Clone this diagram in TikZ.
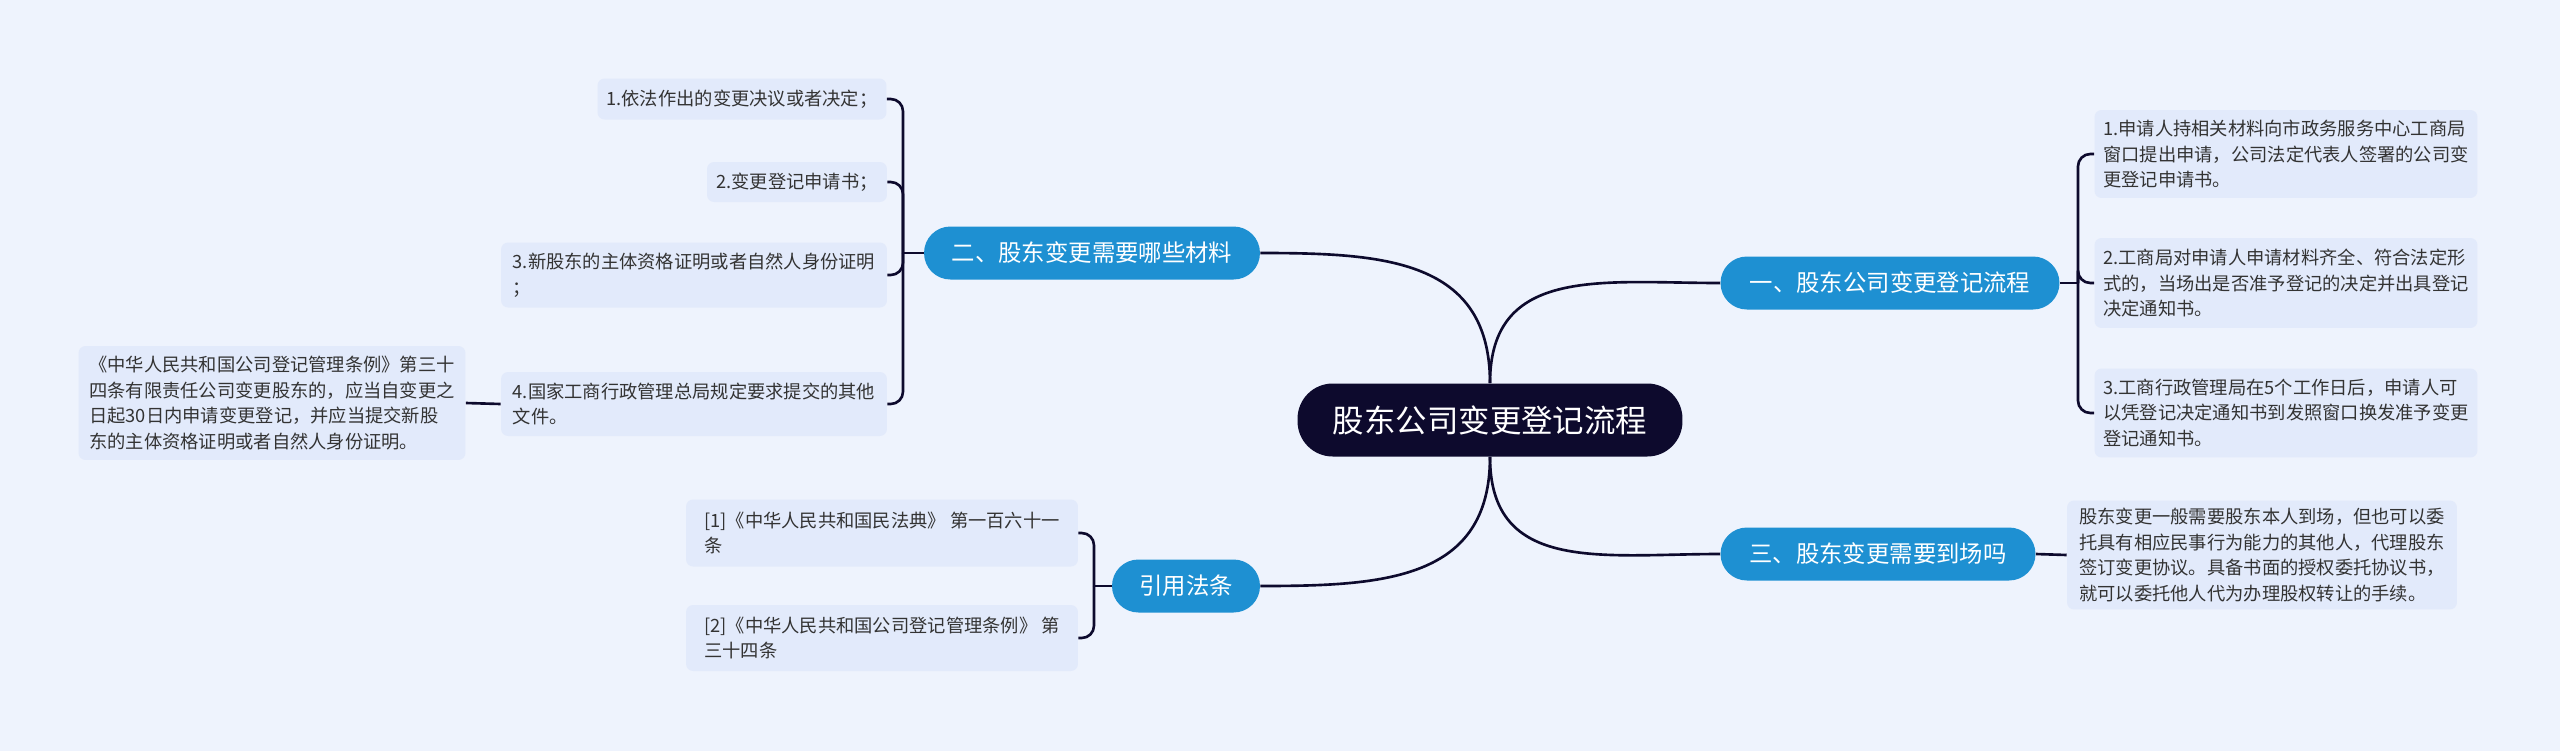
\documentclass[tikz,border=0pt]{standalone}
\usepackage{fontspec}
\setmainfont{Noto Sans CJK SC}
\usepackage{xcolor}
\usepackage{tikz}
\definecolor{bgblue}{RGB}{238,243,253}
\definecolor{leafblue}{RGB}{226,234,251}
\definecolor{topicblue}{RGB}{30,144,210}
\definecolor{navy}{RGB}{13,10,45}
\definecolor{leaftext}{RGB}{51,51,51}

\begin{document}
\begin{tikzpicture}[x=0.02cm,y=-0.02cm,
  centre/.style={rounded corners=20pt,fill=navy,text=white,inner sep=0pt,
    minimum width=7.7cm,minimum height=1.46cm,font=\fontsize{17.9}{20}\selectfont},
  topic/.style={rounded corners=15pt,fill=topicblue,text=white,inner sep=0pt,
    minimum height=1.06cm,font=\fontsize{13.3}{16}\selectfont},
  leaf/.style={rounded corners=4pt,fill=leafblue,text=leaftext,inner sep=0pt,
    align=left,font=\fontsize{10.4}{14.5}\selectfont},
  link/.style={draw=navy,line width=1.5pt},
  hook/.style={link,rounded corners=7pt}]
  \fill[bgblue] (0,0) rectangle (2560,751);

  \node[centre] (main) at (1490,420) {股东公司变更登记流程};

  \node[topic,minimum width=6.72cm] (mat) at (1092,253) {二、股东变更需要哪些材料};
  \node[topic,minimum width=6.78cm] (proc) at (1890,283) {一、股东公司变更登记流程};
  \node[topic,minimum width=6.3cm] (pres) at (1878,554) {三、股东变更需要到场吗};
  \node[topic,minimum width=2.96cm] (law) at (1186,586) {引用法条};

  % materials
  \node[leaf,minimum width=5.78cm,minimum height=0.82cm] (mat1) at (742,99) {1.依法作出的变更决议或者决定；};
  \node[leaf,minimum width=3.6cm,minimum height=0.8cm] (mat2) at (797,182) {2.变更登记申请书；};
  \node[leaf,minimum width=7.72cm,minimum height=1.3cm] (mat3) at (694,275)
    {3.新股东的主体资格证明或者自然人身份证明\\；};
  \node[leaf,minimum width=7.72cm,minimum height=1.28cm] (mat4) at (694,404)
    {4.国家工商行政管理总局规定要求提交的其他\\文件。};
  \node[leaf,minimum width=7.74cm,minimum height=2.28cm] (matnote) at (272,403)
    {《中华人民共和国公司登记管理条例》第三十\\四条有限责任公司变更股东的，应当自变更之\\日起30日内申请变更登记，并应当提交新股\\东的主体资格证明或者自然人身份证明。};

  % procedure
  \node[leaf,minimum width=7.66cm,minimum height=1.76cm] (proc1) at (2286,154)
    {1.申请人持相关材料向市政务服务中心工商局\\窗口提出申请，公司法定代表人签署的公司变\\更登记申请书。};
  \node[leaf,minimum width=7.66cm,minimum height=1.8cm] (proc2) at (2286,283)
    {2.工商局对申请人申请材料齐全、符合法定形\\式的，当场出是否准予登记的决定并出具登记\\决定通知书。};
  \node[leaf,minimum width=7.66cm,minimum height=1.78cm] (proc3) at (2286,413)
    {3.工商行政管理局在5个工作日后，申请人可\\以凭登记决定通知书到发照窗口换发准予变更\\登记通知书。};

  \node[leaf,minimum width=7.8cm,minimum height=2.18cm] (pres1) at (2262,555)
    {股东变更一般需要股东本人到场，但也可以委\\托具有相应民事行为能力的其他人，代理股东\\签订变更协议。具备书面的授权委托协议书，\\就可以委托他人代为办理股权转让的手续。};

  % laws
  \node[leaf,minimum width=7.84cm,minimum height=1.34cm] (law1) at (882,533)
    {[1]《中华人民共和国民法典》 第一百六十一\\条};
  \node[leaf,minimum width=7.84cm,minimum height=1.32cm] (law2) at (882,638)
    {[2]《中华人民共和国公司登记管理条例》 第\\三十四条};

  \coordinate (jmat) at (903,253);
  \coordinate (jproc) at (2078,283);
  \coordinate (jlaw) at (1094,586);

  \draw[link] (main.north) to[out=90,in=0,looseness=1.2] (mat.east);
  \draw[link] (main.north) to[out=90,in=180,looseness=1.2] (proc.west);
  \draw[link] (main.south) to[out=-90,in=180,looseness=1.2] (pres.west);
  \draw[link] (main.south) to[out=-90,in=0,looseness=1.2] (law.east);

  \draw[link] (mat.west) -- (jmat);
  \foreach \n in {mat1,mat2,mat3,mat4}
    \draw[hook] (jmat) |- (\n.east);
  \draw[link] (mat4.west) -- (matnote.east);

  \draw[link] (proc.east) -- (jproc);
  \foreach \n in {proc1,proc2,proc3}
    \draw[hook] (jproc) |- (\n.west);

  \draw[link] (pres.east) -- (pres1.west);

  \draw[link] (law.west) -- (jlaw);
  \foreach \n in {law1,law2}
    \draw[hook] (jlaw) |- (\n.east);
\end{tikzpicture}
\end{document}
